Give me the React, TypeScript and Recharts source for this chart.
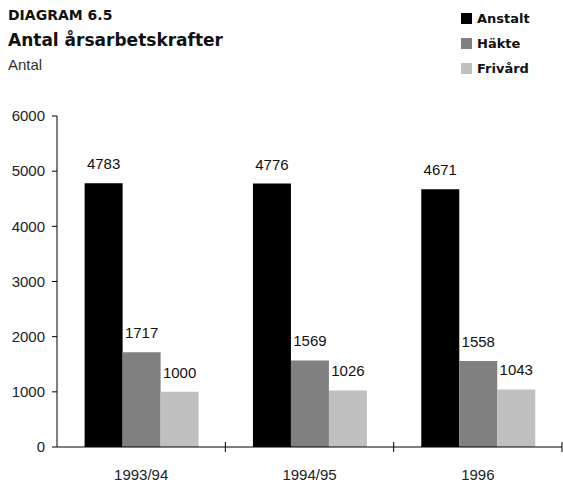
import { BarChart, Bar, XAxis, YAxis, LabelList } from 'recharts'

const years = ['1993/94', '1994/95', '1996']
const anstalt = [4783, 4776, 4671]
const hakte = [1717, 1569, 1558]
const frivard = [1000, 1026, 1043]
const yTicks = [0, 1000, 2000, 3000, 4000, 5000, 6000]

const series = [
  { key: 'Anstalt', color: '#000000' },
  { key: 'Häkte', color: '#808080' },
  { key: 'Frivård', color: '#c0c0c0' },
]

const data = years.map((y, i) => ({
  year: y,
  Anstalt: anstalt[i],
  Häkte: hakte[i],
  Frivård: frivard[i],
}))

const W = 563
const H = 486
const LEFT = 57
const RIGHT = 1
const band = (W - LEFT - RIGHT) / years.length

const regular = '"Liberation Sans", Arial, sans-serif'
const bold = '"DejaVu Sans", sans-serif'

// category label in the middle, tick mark on the right boundary crossing the axis
const XTick = (props: any) => {
  const { x, y, payload } = props
  const axisY = y - 8
  return (
    <g>
      <line x1={x + band / 2} x2={x + band / 2} y1={axisY - 5} y2={axisY + 5} stroke="#000" />
      <text x={x} y={axisY + 33} textAnchor="middle" fontSize={15} fontFamily={regular} fill="#222">
        {payload.value}
      </text>
    </g>
  )
}

export default function App() {
  return (
    <div style={{ position: 'absolute', left: 0, top: 0, width: W, height: H, background: '#fff' }}>
      <div style={{ position: 'absolute', left: 8, top: 7.5, fontFamily: bold, fontWeight: 700, fontSize: 14, lineHeight: '14px', color: '#111' }}>
        DIAGRAM 6.5
      </div>
      <div style={{ position: 'absolute', left: 8, top: 32, fontFamily: bold, fontWeight: 700, fontSize: 17, lineHeight: '17px', color: '#111', whiteSpace: 'nowrap' }}>
        Antal årsarbetskrafter
      </div>
      <div style={{ position: 'absolute', left: 8, top: 57, fontFamily: regular, fontSize: 15, lineHeight: '15px', color: '#333' }}>
        Antal
      </div>
      {series.map((s, i) => (
        <div key={s.key} style={{ position: 'absolute', left: 461, top: 11.5 + i * 25, display: 'flex', alignItems: 'center', whiteSpace: 'nowrap' }}>
          <div style={{ width: 11, height: 11, background: s.color, marginRight: 5 }} />
          <span style={{ fontFamily: bold, fontWeight: 700, fontSize: 13, lineHeight: '13px', color: '#111' }}>{s.key}</span>
        </div>
      ))}
      <div style={{ position: 'absolute', left: 0, top: 0 }}>
        <BarChart
          width={W}
          height={H}
          data={data}
          margin={{ top: 116, right: RIGHT, bottom: 0, left: 0 }}
          barCategoryGap="16.4%"
          barGap={0}
        >
          <XAxis xAxisId="top" orientation="top" dataKey="year" height={0} tick={false} tickLine={false} axisLine={{ stroke: '#555' }} />
          <YAxis yAxisId="right" orientation="right" width={0} domain={[0, 6000]} tick={false} tickLine={false} axisLine={{ stroke: '#555' }} />
          <XAxis dataKey="year" height={39} tickLine={false} axisLine={{ stroke: '#000' }} tick={<XTick />} interval={0} />
          <YAxis
            width={LEFT}
            domain={[0, 6000]}
            ticks={yTicks}
            interval={0}
            tickSize={5}
            tickMargin={7}
            axisLine={{ stroke: '#000' }}
            tickLine={{ stroke: '#000' }}
            tick={{ fontSize: 15, fontFamily: regular, fill: '#222' }}
          />
          {series.map(s => (
            <Bar key={s.key} dataKey={s.key} fill={s.color} isAnimationActive={false}>
              <LabelList dataKey={s.key} position="top" offset={14} style={{ fontSize: 15, fontFamily: regular, fill: '#111' }} />
            </Bar>
          ))}
        </BarChart>
      </div>
    </div>
  )
}
